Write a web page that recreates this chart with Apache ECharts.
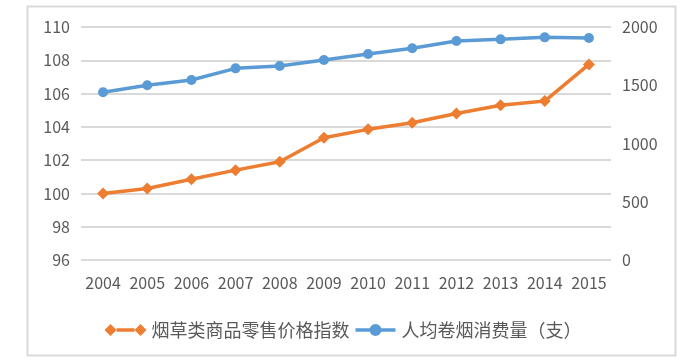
<!DOCTYPE html>
<html><head><meta charset="utf-8">
<script src="https://cdn.jsdelivr.net/npm/echarts@6/dist/echarts.min.js"></script>
<style>html,body{margin:0;padding:0;background:#fff}#c{width:686px;height:364px}</style>
</head><body><div id="c"></div>
<script>
const years = ['2004','2005','2006','2007','2008','2009','2010','2011','2012','2013','2014','2015'];
const priceIndex = [100.0,100.3,100.85,101.4,101.9,103.35,103.85,104.25,104.8,105.3,105.55,107.75];
const perCapita = [1440,1500,1545,1645,1665,1717,1768,1817,1880,1894,1911,1906];
const seriesNames = ['烟草类商品零售价格指数','人均卷烟消费量（支）'];

const font = 'Noto Sans CJK SC';
const orangeIcon = 'path://M0 6 L6 0 L12 6 L6 12 Z M12 4.3 L30 4.3 L30 7.7 L12 7.7 Z M30 6 L36 0 L42 6 L36 12 Z';
const blueIcon = 'path://M0 4.3 L14.5 4.3 L14.5 7.7 L0 7.7 Z M25.5 4.3 L40 4.3 L40 7.7 L25.5 7.7 Z M14 6 A6 6 0 1 1 26 6 A6 6 0 1 1 14 6 Z';
const chart = echarts.init(document.getElementById('c'));
chart.setOption({
  animation:false,
  graphic:[{type:'rect',shape:{x:27.5,y:6.5,width:648,height:349},style:{fill:'none',stroke:'#D9D9D9',lineWidth:2},silent:true}],
  grid:{left:81,right:75,top:27,bottom:104},
  legend:{left:'center',top:316,itemGap:6,itemHeight:12,
    textStyle:{fontFamily:font,fontSize:18,color:'#595959'},
    data:[{name:seriesNames[0],icon:orangeIcon,itemStyle:{color:'#ED7D31'}},
          {name:seriesNames[1],icon:blueIcon,itemStyle:{color:'#5B9BD5'}}],
    itemWidth:42},
  xAxis:{type:'category',data:years,boundaryGap:true,
    axisLine:{show:false},axisTick:{show:false},
    axisLabel:{fontFamily:font,fontSize:16,color:'#595959',margin:15,interval:0}},
  yAxis:[
    {type:'value',min:96,max:110,interval:2,
     axisLine:{show:false},axisTick:{show:false},
     axisLabel:{fontFamily:font,fontSize:16,color:'#595959',margin:11},
     splitLine:{lineStyle:{color:'#D9D9D9',width:2}}},
    {type:'value',min:0,max:2000,interval:500,position:'right',
     axisLine:{show:false},axisTick:{show:false},
     axisLabel:{fontFamily:font,fontSize:16,color:'#595959',margin:11,formatter:v=>String(v)},
     splitLine:{show:false}}
  ],
  series:[
    {name:seriesNames[0],type:'line',yAxisIndex:0,data:priceIndex,symbol:'diamond',symbolSize:12,
     lineStyle:{color:'#ED7D31',width:3.5},itemStyle:{color:'#ED7D31'}},
    {name:seriesNames[1],type:'line',yAxisIndex:1,data:perCapita,symbol:'circle',symbolSize:10,
     lineStyle:{color:'#5B9BD5',width:3.5},itemStyle:{color:'#5B9BD5'}}
  ]
});
</script></body></html>
